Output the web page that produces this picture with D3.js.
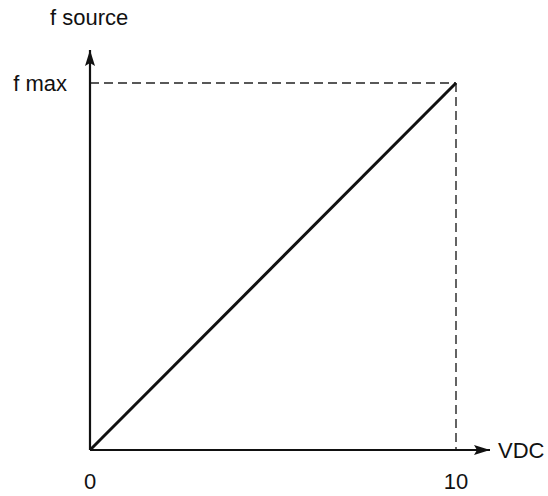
<!DOCTYPE html>
<html>
<head>
<meta charset="utf-8">
<script src="https://cdn.jsdelivr.net/npm/d3@7"></script>
<style>
  body { margin: 0; background: #fff; }
  text { font-family: "Liberation Sans", Arial, sans-serif; fill: #111; }
</style>
</head>
<body>
<svg id="chart" width="548" height="496"></svg>
<script>
// data
const vdc = [0, 10];
const freq = [0, 1];          // fraction of f max
const xTickValues = [0, 10];
const xTickLabels = ["0", "10"];
const yTickValues = [1];
const yTickLabels = ["f max"];
const xTitle = "VDC";
const yTitle = "f source";

const svg = d3.select("#chart");

const x = d3.scaleLinear().domain([0, 10]).range([90, 456]);
const y = d3.scaleLinear().domain([0, 1]).range([450, 83]);

// arrow marker
svg.append("defs").append("marker")
  .attr("id", "arrow")
  .attr("viewBox", "0 0 16 10")
  .attr("refX", 16).attr("refY", 5)
  .attr("markerWidth", 16).attr("markerHeight", 10)
  .attr("markerUnits", "userSpaceOnUse")
  .attr("orient", "auto")
  .append("path")
  .attr("d", "M0,0 L16,5 L0,10 L3,5 Z")
  .attr("fill", "#111");

// dashed guides to f max and 10
svg.append("line")
  .attr("x1", x(0)).attr("x2", x(10))
  .attr("y1", y(1)).attr("y2", y(1))
  .attr("stroke", "#222").attr("stroke-width", 1.4)
  .attr("stroke-dasharray", "9,5");

svg.append("line")
  .attr("x1", x(10)).attr("x2", x(10))
  .attr("y1", y(1)).attr("y2", y(0))
  .attr("stroke", "#222").attr("stroke-width", 1.4)
  .attr("stroke-dasharray", "9,5");

// axes with arrows
svg.append("line")
  .attr("x1", x(0)).attr("x2", 490)
  .attr("y1", y(0)).attr("y2", y(0))
  .attr("stroke", "#111").attr("stroke-width", 2.2)
  .attr("marker-end", "url(#arrow)");

svg.append("line")
  .attr("x1", x(0)).attr("x2", x(0))
  .attr("y1", y(0)).attr("y2", 50)
  .attr("stroke", "#111").attr("stroke-width", 2.2)
  .attr("marker-end", "url(#arrow)");

// the characteristic line
const line = d3.line().x(d => x(d[0])).y(d => y(d[1]));
svg.append("path")
  .datum(vdc.map((v, i) => [v, freq[i]]))
  .attr("d", line)
  .attr("fill", "none")
  .attr("stroke", "#111")
  .attr("stroke-width", 3);

// tick labels
svg.selectAll(".xlab")
  .data(xTickValues)
  .enter().append("text")
  .attr("class", "xlab")
  .attr("x", d => x(d))
  .attr("y", 489)
  .attr("text-anchor", "middle")
  .style("font-size", "22px")
  .text((d, i) => xTickLabels[i]);

svg.selectAll(".ylab")
  .data(yTickValues)
  .enter().append("text")
  .attr("class", "ylab")
  .attr("x", 67)
  .attr("y", d => y(d) + 8)
  .attr("text-anchor", "end")
  .style("font-size", "22px")
  .text((d, i) => yTickLabels[i]);

// axis titles
svg.append("text")
  .attr("x", 498).attr("y", 458)
  .style("font-size", "22px")
  .text(xTitle);

svg.append("text")
  .attr("x", 50).attr("y", 25)
  .style("font-size", "22px")
  .text(yTitle);
</script>
</body>
</html>
